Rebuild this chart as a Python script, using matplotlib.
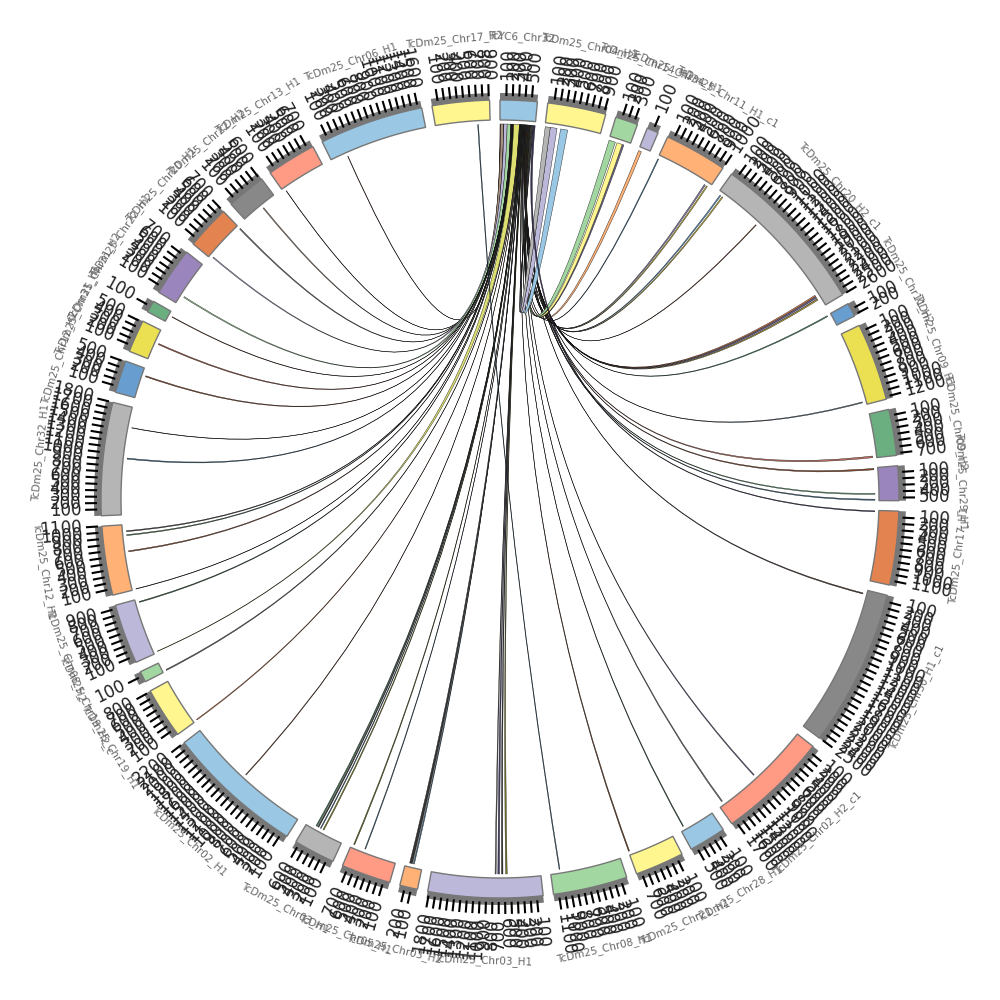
import numpy as np
import matplotlib
matplotlib.use("Agg")
import matplotlib.pyplot as plt
from matplotlib.path import Path
from matplotlib.patches import PathPatch, Polygon
from matplotlib.collections import LineCollection

# sectors, clockwise from the top
sector_names = [
    "TcYC6_Chr32", "TcDm25_Chr04_H1", "TcDm25_Chr14_H1", "TcDm25_Chr34_H1", "TcDm25_Chr11_H1_c1",
    "TcDm25_Chr20_H2_c1", "TcDm25_Chr11_H2", "TcDm25_Chr09_H1", "TcDm25_Chr09_H2", "TcDm25_Chr29_H1",
    "TcDm25_Chr17_H1", "TcDm25_Chr30_H1_c1", "TcDm25_Chr02_H2_c1", "TcDm25_Chr28_H1", "TcDm25_Chr21_H1",
    "TcDm25_Chr08_H1", "TcDm25_Chr03_H1", "TcDm25_Chr03_H2", "TcDm25_Chr05_H1", "TcDm25_Chr03_H1",
    "TcDm25_Chr02_H1", "TcDm25_Chr19_H1", "TcDm25_Chr19_H2_c", "TcDm25_Chr08_H2", "TcDm25_Chr12_H1",
    "TcDm25_Chr32_H1", "TcDm25_Chr12_H2", "TcDm25_Chr31_H1", "TcDm25_Chr31_H2", "TcDm25_Chr22_H1",
    "TcDm25_Chr20_H1", "TcDm25_Chr22_H2", "TcDm25_Chr13_H1", "TcDm25_Chr06_H1", "TcDm25_Chr17_H2",
]
sector_len = [590, 930, 360, 185, 1000, 2600, 220, 1240, 735, 550, 1175, 2505, 1770, 590, 780, 1185, 1825, 285,
              790, 660, 2200, 810, 175, 955, 1100, 1800, 516, 520, 190, 770, 700, 625, 790, 1660, 912]
palette = ["#9AC8E4", "#FFF68F", "#A3D7A1", "#BCB8DA", "#FFB176", "#B5B5B5", "#679ECF",
           "#EBDF52", "#6BAF81", "#9A86BD", "#E38350", "#888888", "#FF9B85"]
sector_colors = palette + palette[:5] + ["#FF9B85", "#B5B5B5"] + palette + palette[:2]

# links: sector (1-based), position and width in kb. nearly all of them end in sector 1,
# stacked left to right in this order, the last one goes 35 -> 16
link_src_sector = [34, 33, 32, 31, 31, 30, 29, 28, 27, 26, 26, 25, 25, 25, 25, 24, 24, 23, 22, 21,
                   20, 20, 20, 20, 19, 19, 18, 18, 17, 17, 17, 17, 15, 14, 13, 13, 12, 10, 10, 10,
                   9, 8, 7, 6, 6, 6, 6, 6, 6, 6, 5, 5, 5, 4, 3, 3, 3, 2, 2, 2, 11, 35]
link_src_kb = [274, 44, 351, 690, 33, 142, 113, 285, 384, 1459, 933, 981, 915, 641, 5, 894, 18, 6, 5, 1132,
               487, 455, 411, 356, 740, 543, 171, 138, 746, 689, 631, 560, 760, 518, 1677, 986, 59, 526, 427, 10,
               701, 1183, 5, 2445, 2420, 2395, 2370, 825, 91, 47, 938, 894, 5, 5, 240, 145, 5, 265, 90, 5, 7, 702]
link_src_w = [8, 7, 16, 18, 16, 18, 10, 18, 18, 7, 18, 16, 16, 18, 7, 16, 7, 18, 14, 12,
              20, 18, 14, 18, 18, 14, 48, 18, 18, 28, 24, 26, 18, 14, 18, 16, 18, 18, 18, 24,
              28, 16, 18, 22, 22, 22, 22, 12, 18, 18, 18, 22, 15, 50, 25, 90, 110, 120, 115, 85, 16, 14]
link_dst_w = [5, 5, 50, 5, 55, 60, 5, 5, 5, 5, 5, 5, 5, 5, 5, 5, 95, 5, 5, 5,
              5, 5, 5, 5, 5, 5, 8, 5, 5, 5, 5, 7, 5, 5, 5, 5, 5, 5, 5, 5,
              5, 5, 5, 5, 5, 5, 5, 5, 5, 5, 5, 5, 5, 5, 5, 8, 8, 8, 8, 8, 30, 14]
link_dst_sector = [1] * 61 + [16]
link_dst_kb = list(np.cumsum([0] + link_dst_w[:60])) + [1022]
link_colors = ["#7A4A30", "#333333", "#A8917F", "#777777", "#BCB8DA", "#A3D7A1", "#8A4B2D", "#A0523A", "#8A4B2D",
               "#222222", "#3F6E8C", "#444444", "#4F7A55", "#8A4B2D", "#222222", "#2E5A36", "#DDE070", "#666666",
               "#E38350", "#8A4B2D", "#3F7A55", "#333333", "#3F6E8C", "#8A8A20", "#6B6B20", "#3F6E8C", "#333333",
               "#3F6E8C", "#666666", "#4A3F70", "#333333", "#7A7A2A", "#6B3A1E", "#2E5A36", "#777777", "#6A6690",
               "#4A3A30", "#3F6E8C", "#6BAF81", "#8A4B2D", "#C07060", "#5A6E7E", "#4C9068", "#C9B030", "#BCB8DA",
               "#7C6FA0", "#E38350", "#8A4B2D", "#D8C030", "#5B9BD5", "#D8C030", "#8C86B0", "#3F7FA8", "#FFB176",
               "#6A6690", "#FFF68F", "#A3D7A1", "#9AC8E4", "#BCB8DA", "#B5B5B5", "#3A2F55", "#3F6E8C"]

gap = 1.5
r_in, r_out = 379, 399
r_link = 375
ctrl = np.array([0, 0])

deg_per_kb = (360 - gap * len(sector_len)) / sum(sector_len)
starts = []
a = 0
for ln in sector_len:
    starts.append(a)
    a += ln * deg_per_kb + gap


def xy(r, deg):
    t = np.radians(deg)
    return np.column_stack([r * np.sin(t), r * np.cos(t)])


def ring(r0, r1, a0, a1):
    n = max(int(a1 - a0) * 2, 2)
    t = np.linspace(a0, a1, n)
    return np.vstack([xy(r1, t), xy(r0, t[::-1])])


fig = plt.figure(figsize=(10, 10), dpi=100)
ax = fig.add_axes([0, 0, 1, 1])
ax.set_xlim(-500, 500)
ax.set_ylim(-501, 499)
ax.axis("off")

# links first, blocks go over them
for i in range(len(link_src_kb)):
    s0 = starts[link_src_sector[i] - 1] + link_src_kb[i] * deg_per_kb
    s1 = s0 + link_src_w[i] * deg_per_kb
    d0 = starts[link_dst_sector[i] - 1] + link_dst_kb[i] * deg_per_kb
    d1 = d0 + link_dst_w[i] * deg_per_kb
    arc_s = xy(r_link, np.linspace(s0, s1, 4))
    arc_d = xy(r_link, np.linspace(d0, d1, 6))
    verts = [arc_s[0]]
    codes = [Path.MOVETO]
    for p in arc_s[1:]:
        verts.append(p)
        codes.append(Path.LINETO)
    verts += [ctrl, arc_d[0]]
    codes += [Path.CURVE3, Path.CURVE3]
    for p in arc_d[1:]:
        verts.append(p)
        codes.append(Path.LINETO)
    verts += [ctrl, arc_s[0], arc_s[0]]
    codes += [Path.CURVE3, Path.CURVE3, Path.CLOSEPOLY]
    ax.add_patch(PathPatch(Path(verts, codes), facecolor=link_colors[i], edgecolor="#111111", lw=0.28, zorder=2))

# sector blocks, tick band, ticks, labels
segs = []
for i, ln in enumerate(sector_len):
    a0 = starts[i]
    a1 = a0 + ln * deg_per_kb
    ax.add_patch(Polygon(ring(r_in, r_out, a0, a1), closed=True, facecolor=sector_colors[i],
                         edgecolor="#777777", lw=1.0, zorder=3))
    ax.add_patch(Polygon(ring(r_out, 406, a0, a1), closed=True, facecolor="#777777", edgecolor="none", zorder=3))
    for k in range(100, ln + 1, 100):
        ang = a0 + k * deg_per_kb
        p = xy(np.array([403.0, 415.0]), np.array([ang, ang]))
        segs.append(p)
        lp = xy(419, ang)[0]
        if ang < 180:
            ax.text(lp[0], lp[1], str(k), rotation=90 - ang, ha="left", va="center",
                    rotation_mode="anchor", fontsize=12, color="#222222", zorder=5)
        else:
            ax.text(lp[0], lp[1], str(k), rotation=270 - ang, ha="right", va="center",
                    rotation_mode="anchor", fontsize=12, color="#222222", zorder=5)
    mid = (a0 + a1) / 2
    lp = xy(462, mid)[0]
    rot = -mid if (mid < 90 or mid > 270) else 180 - mid
    ax.text(lp[0], lp[1], sector_names[i], rotation=rot, ha="center", va="center",
            rotation_mode="anchor", fontsize=7.5, color="#666666", zorder=5)

ax.add_collection(LineCollection(segs, colors="black", linewidths=1.5, zorder=4))

fig.savefig("out.png", dpi=100)
